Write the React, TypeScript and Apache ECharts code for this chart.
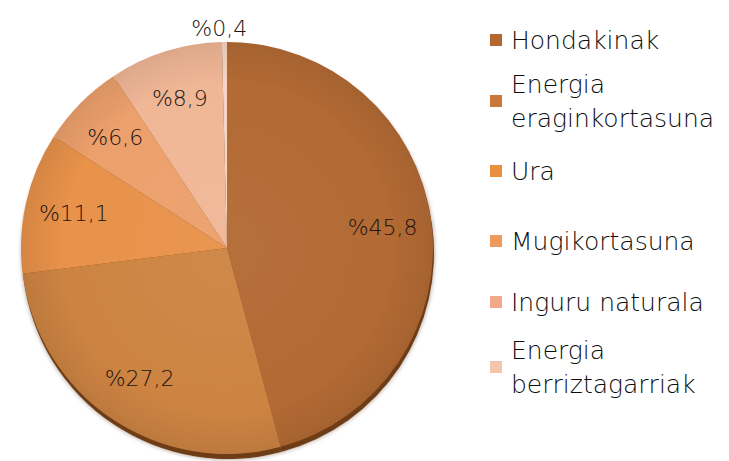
import React, { useEffect, useRef } from 'react';
import * as echarts from 'echarts';

const categories = [
  'Hondakinak',
  'Energia eraginkortasuna',
  'Ura',
  'Mugikortasuna',
  'Inguru naturala',
  'Energia berriztagarriak',
];
const shares = [45.8, 27.2, 11.1, 6.6, 8.9, 0.4];
const sliceColors = ['#B36A34', '#CD8442', '#E8924A', '#ECA06C', '#F0B796', '#F7D5C4'];
const legendColors = ['#B3662F', '#C9783A', '#E8903F', '#EE9A5E', '#F2A989', '#F4C4AE'];
const legendFirstLineCenters = [40, 101, 171, 241, 302, 367];

const FONT = "'DejaVu Sans', sans-serif";
const CX = 227;
const CY = 248;
const R = 206;

function shade(hex: string, f: number): string {
  const n = parseInt(hex.slice(1), 16);
  const ch = [(n >> 16) & 255, (n >> 8) & 255, n & 255].map((c) =>
    Math.max(0, Math.min(255, Math.round(f >= 0 ? c + (255 - c) * f : c * (1 + f))))
  );
  return 'rgb(' + ch.join(',') + ')';
}

function fmtPct(v: number): string {
  return '%' + v.toFixed(1).replace('.', ',');
}

export default function App() {
  const ref = useRef<HTMLDivElement>(null);
  useEffect(() => {
    if (!ref.current) return;
    const chart = echarts.init(ref.current, undefined, { renderer: 'svg' });

    const mainData = categories.map((name, i) => ({
      name,
      value: shares[i],
      itemStyle: {
        color: {
          type: 'radial',
          x: CX,
          y: CY,
          r: R,
          global: true,
          colorStops: [
            { offset: 0, color: shade(sliceColors[i], 0.04) },
            { offset: 0.8, color: sliceColors[i] },
            { offset: 1, color: shade(sliceColors[i], -0.08) },
          ],
        },
      },
    }));

    const baseData = categories.map((name, i) => ({ name, value: shares[i] }));

    const labelData = categories.map((name, i) => {
      const item: any = { name, value: shares[i] };
      if (shares[i] < 2) {
        item.label = { position: 'outside' };
        item.labelLine = { show: false, length: 14, length2: 0 };
      }
      return item;
    });

    const legends = categories.map((name, i) => {
      const twoLine = name.indexOf('Energia ') === 0;
      const c = legendFirstLineCenters[i];
      return {
        data: [{ name, itemStyle: { color: legendColors[i] } }],
        left: 490,
        top: twoLine ? c - 51 : c - 17,
        orient: 'vertical',
        padding: 0,
        itemGap: 0,
        itemWidth: 12,
        itemHeight: 12,
        icon: 'rect',
        selectedMode: false,
        formatter: (n: string) => n.replace('Energia ', 'Energia\n'),
        textStyle: {
          fontFamily: FONT,
          fontSize: 25,
          fontWeight: 200,
          color: '#0d0d0d',
          lineHeight: 34,
          padding: twoLine ? [34, 0, 0, 4] : [0, 0, 0, 4],
        },
      };
    });

    chart.setOption({
      animation: false,
      backgroundColor: '#ffffff',
      legend: legends,
      series: [
        {
          type: 'pie',
          z: 2,
          center: [CX, CY],
          radius: R,
          startAngle: 90,
          clockwise: true,
          silent: true,
          label: { show: false },
          labelLine: { show: false },
          itemStyle: { borderWidth: 0 },
          data: mainData,
        },
        {
          type: 'pie',
          z: 1,
          center: [CX + 1, CY + 5],
          radius: R,
          startAngle: 90,
          clockwise: true,
          silent: true,
          label: { show: false },
          labelLine: { show: false },
          itemStyle: {
            color: '#6e3d16',
            borderWidth: 0,
            shadowBlur: 4,
            shadowColor: 'rgba(60,30,10,0.5)',
          },
          data: baseData,
        },
        {
          type: 'pie',
          z: 3,
          center: [CX, CY],
          radius: [102, R],
          startAngle: 90,
          clockwise: true,
          silent: true,
          avoidLabelOverlap: false,
          itemStyle: { color: 'rgba(0,0,0,0)', borderWidth: 0 },
          label: {
            show: true,
            position: 'inside',
            formatter: (p: any) => fmtPct(p.value),
            fontFamily: FONT,
            fontSize: 22,
            fontWeight: 200,
            color: '#241410',
          },
          labelLine: { show: false },
          labelLayout: (p: any) =>
            shares[p.dataIndex] < 2 ? { align: 'center', verticalAlign: 'middle' } : {},
          data: labelData,
        },
      ],
    });
    return () => chart.dispose();
  }, []);

  return (
    <div
      ref={ref}
      style={{ position: 'fixed', left: 0, top: 0, width: 729, height: 461, background: '#fff' }}
    />
  );
}
